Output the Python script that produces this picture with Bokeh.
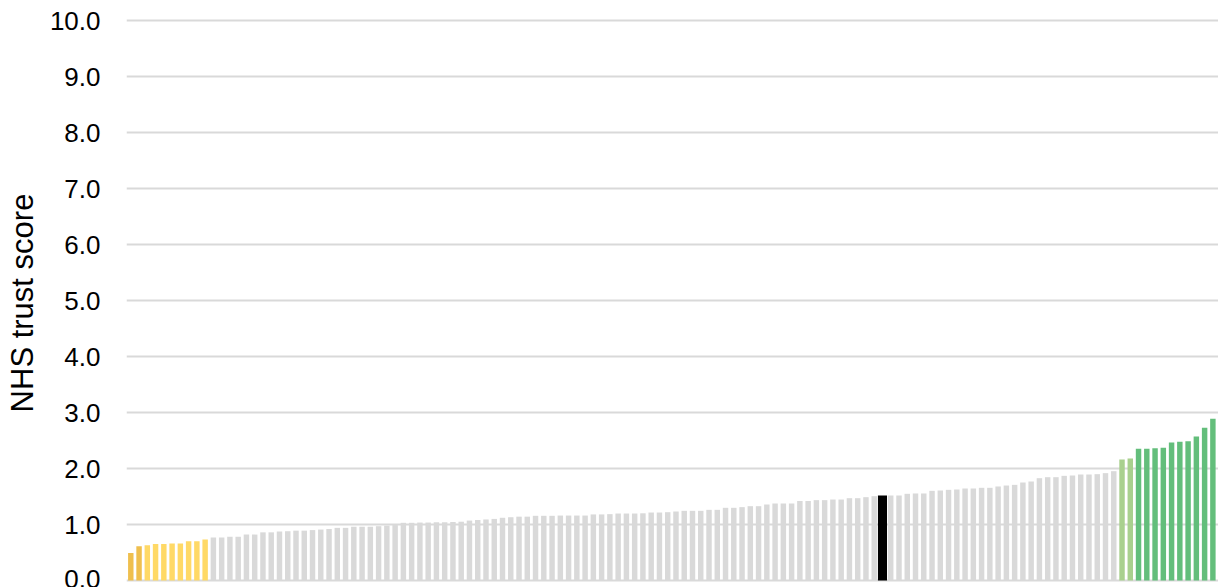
from bokeh.plotting import figure
from bokeh.models import ColumnDataSource, Range1d, SingleIntervalTicker, NumeralTickFormatter
from bokeh.embed import file_html
from bokeh.resources import INLINE

# NHS trust scores, sorted ascending
scores = [
    0.49, 0.61, 0.63, 0.65, 0.65, 0.66, 0.66, 0.70, 0.70, 0.73,
    0.77, 0.77, 0.78, 0.78, 0.82, 0.82, 0.86, 0.86, 0.875, 0.88,
    0.89, 0.89, 0.90, 0.91, 0.92, 0.94, 0.94, 0.96, 0.96, 0.96,
    0.97, 0.98, 0.99, 1.03, 1.03, 1.035, 1.035, 1.04, 1.04, 1.045,
    1.05, 1.07, 1.08, 1.09, 1.10, 1.12, 1.13, 1.14, 1.14, 1.155,
    1.155, 1.155, 1.16, 1.16, 1.16, 1.16, 1.18, 1.18, 1.185, 1.196,
    1.196, 1.196, 1.20, 1.214, 1.214, 1.22, 1.232, 1.244, 1.244, 1.244,
    1.262, 1.262, 1.298, 1.298, 1.31, 1.327, 1.327, 1.357, 1.375, 1.375,
    1.375, 1.42, 1.42, 1.435, 1.435, 1.446, 1.446, 1.47, 1.47, 1.488,
    1.506, 1.518, 1.518, 1.518, 1.548, 1.554, 1.554, 1.601, 1.607, 1.619,
    1.625, 1.643, 1.643, 1.655, 1.655, 1.679, 1.696, 1.708, 1.75, 1.768,
    1.827, 1.845, 1.845, 1.869, 1.875, 1.893, 1.893, 1.899, 1.917, 1.952,
    2.161, 2.179, 2.351, 2.351, 2.363, 2.37, 2.464, 2.476, 2.488, 2.571,
    2.726, 2.887, 2.845,
]
# group of each trust
n_bottom_dark = 2       # darkest yellow
n_bottom = 10           # yellow (lowest)
highlight_index = 91    # highlighted trust (black)
n_top_light = 2         # light green
n_top = 13              # green (highest, incl. light)
y_ticks = [0, 1, 2, 3, 4, 5, 6, 7, 8, 9, 10]

N = len(scores)
colors, widths = [], []
for i in range(N):
    w = 0.66
    if i < n_bottom_dark:
        c = "#EFBF4E"
    elif i < n_bottom:
        c = "#FFD966"
    elif i == highlight_index:
        c = "#000000"
        w = 1.1
    elif i >= N - n_top:
        c = "#A9D08E" if i < N - n_top + n_top_light else "#63BE7B"
    else:
        c = "#D9D9D9"
    colors.append(c)
    widths.append(w)

src = ColumnDataSource(dict(x=list(range(N)), top=scores, color=colors, width=widths))

p = figure(width=1218, height=587, output_backend="svg", toolbar_location=None,
           x_range=Range1d(-0.52, 131.68), y_range=Range1d(-0.125, 10.036),
           min_border_left=126, min_border_top=18, min_border_bottom=0, min_border_right=0)
p.outline_line_color = None
p.background_fill_color = "white"
p.border_fill_color = "white"

p.vbar(x="x", top="top", width="width", bottom=0, source=src,
       fill_color="color", line_color=None)

p.xaxis.visible = False
p.xgrid.grid_line_color = None

ax = p.yaxis[0]
ax.ticker = SingleIntervalTicker(interval=1)
ax.formatter = NumeralTickFormatter(format="0.0")
ax.axis_line_color = None
ax.major_tick_line_color = None
ax.minor_tick_line_color = None
ax.major_tick_out = 0
ax.major_tick_in = 0
ax.major_label_standoff = 22
ax.major_label_text_font = "Liberation Sans"
ax.major_label_text_font_size = "26px"
ax.major_label_text_color = "#000000"
ax.axis_label = "NHS trust score"
ax.axis_label_text_font = "Liberation Sans"
ax.axis_label_text_font_size = "31px"
ax.axis_label_text_font_style = "normal"
ax.axis_label_text_color = "#000000"
ax.axis_label_standoff = 7

p.ygrid.grid_line_color = "#D9D9D9"
p.ygrid.grid_line_width = 2
p.ygrid.level = "underlay"

open("out.html", "w").write(file_html(p, INLINE))
